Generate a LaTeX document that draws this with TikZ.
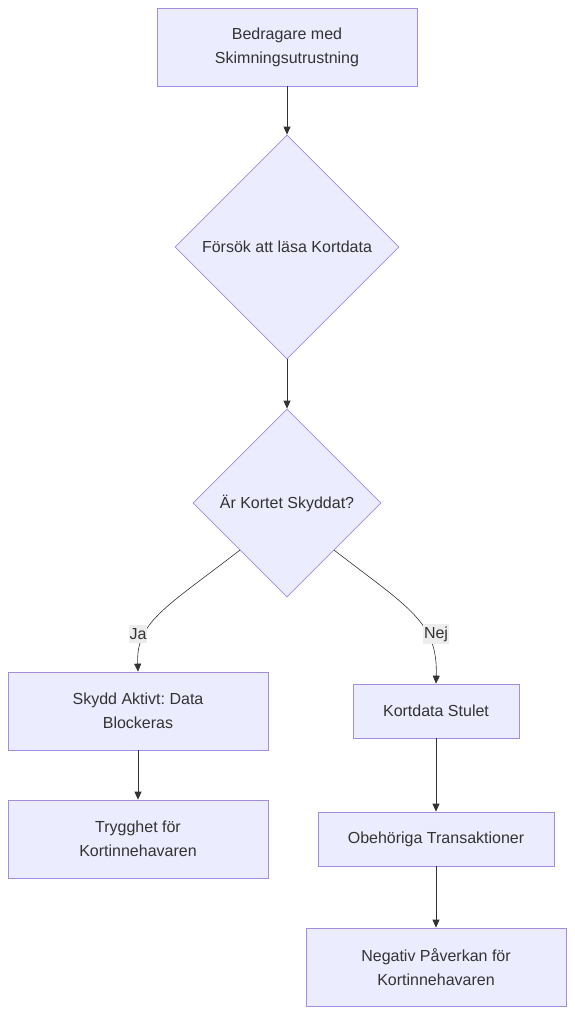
\documentclass[tikz,border=0pt]{standalone}
\usepackage{fontspec}
\setmainfont{Liberation Sans}
\frenchspacing
\usetikzlibrary{shapes.geometric, arrows.meta, positioning}
\definecolor{cFill}{HTML}{ECECFF}
\definecolor{cLine}{HTML}{A48CE0}
\definecolor{cText}{HTML}{333333}
\definecolor{cLabel}{HTML}{EDEDED}
\tikzset{
  basebox/.style={rectangle, draw=cLine, fill=cFill, line width=0.7pt,
                  align=center, text=cText, inner sep=0pt,
                  font=\fontsize{16}{24}\selectfont},
  stepnode/.style={basebox, minimum width=260pt, minimum height=78pt},
  smallnode/.style={basebox, minimum height=54pt},
  decisionnode/.style={diamond, aspect=1, draw=cLine, fill=cFill,
                       line width=0.7pt, align=center, text=cText,
                       inner sep=0pt, font=\fontsize{16}{24}\selectfont},
  edgelabel/.style={fill=cLabel, text=cText, inner xsep=1pt, inner ysep=3pt,
                    font=\fontsize{16}{20}\selectfont},
  arrow/.style={-{Triangle[length=8pt,width=7pt]}, line width=0.9pt, color=cText},
  curvearrow/.style={-{Triangle[length=8pt,width=7pt]}, line width=0.6pt, color=cText}
}
\begin{document}
\begin{tikzpicture}[x=1pt, y=-1pt]
  \useasboundingbox (0,0) rectangle (574,1014);
  \node[stepnode] (bedr) at (287,47) {Bedragare med\\Skimningsutrustning};
  \node[decisionnode, minimum size=224pt] (lasa) at (287,247) {Försök att läsa Kortdata};
  \node[decisionnode, minimum size=188pt] (skydd) at (287,503) {Är Kortet Skyddat?};

  \node[stepnode] (aktiv) at (138,711) {Skydd Aktivt: Data\\Blockeras};
  \node[stepnode] (trygg) at (138,839) {Trygghet för\\Kortinnehavaren};

  \node[smallnode, minimum width=166pt] (stulet) at (436,711) {Kortdata Stulet};
  \node[smallnode, minimum width=236pt] (obeh) at (436,839) {Obehöriga Transaktioner};
  \node[stepnode] (neg) at (436,967) {Negativ Påverkan för\\Kortinnehavaren};

  \foreach \from/\to in {bedr/lasa, lasa/skydd, aktiv/trygg, stulet/obeh, obeh/neg}
    \draw[arrow] (\from) -- (\to);

  % yes / no branches
  \draw[curvearrow] (skydd.south west) .. controls (165,608) and (136,622) .. (aktiv.north);
  \draw[curvearrow] (skydd.south east) .. controls (409,608) and (438,622) .. (stulet.north);
  \node[edgelabel] (ja) at (138,634) {Ja};
  \node[edgelabel] (nej) at (436,634) {Nej};
\end{tikzpicture}
\end{document}
